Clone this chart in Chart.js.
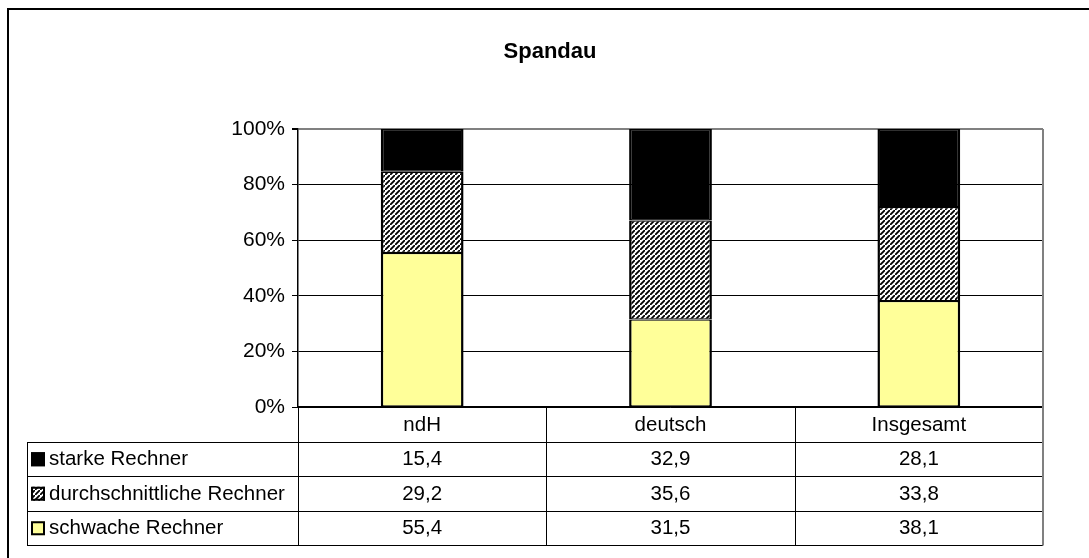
<!DOCTYPE html>
<html>
<head>
<meta charset="utf-8">
<script src="https://cdn.jsdelivr.net/npm/chart.js@4/dist/chart.umd.min.js"></script>
<style>
  html, body { margin: 0; padding: 0; background: #fff; }
  #wrap { width: 1089px; height: 558px; }
</style>
</head>
<body>
<div id="wrap"><canvas id="c" width="1089" height="558"></canvas></div>
<script>
const categories = ['ndH', 'deutsch', 'Insgesamt'];
const starke = [15.4, 32.9, 28.1];
const durchschnittliche = [29.2, 35.6, 33.8];
const schwache = [55.4, 31.5, 38.1];
const seriesNames = ['starke Rechner', 'durchschnittliche Rechner', 'schwache Rechner'];
const yTickValues = [0, 20, 40, 60, 80, 100];

const FONT = "'Liberation Sans', Arial, sans-serif";
const TEXT_SIZE = 20.5;
const YELLOW = '#ffff99';

// diagonal hatch used for the middle series
function makeHatch() {
  const p = 5;
  const c = document.createElement('canvas');
  c.width = p; c.height = p;
  const g = c.getContext('2d');
  g.fillStyle = '#fff';
  g.fillRect(0, 0, p, p);
  g.strokeStyle = '#000';
  g.lineWidth = 1.8;
  g.beginPath();
  g.moveTo(-1, p + 1); g.lineTo(p + 1, -1);
  g.moveTo(-p - 1, 1); g.lineTo(1, -p - 1);
  g.moveTo(p - 1, 2 * p + 1); g.lineTo(2 * p + 1, p - 1);
  g.stroke();
  return g.createPattern(c, 'repeat');
}
const hatch = makeHatch();

// frame, title and the data table under the plot
const tablePlugin = {
  id: 'tablePlugin',
  beforeDraw(chart) {
    const ctx = chart.ctx;
    ctx.save();
    ctx.fillStyle = '#fff';
    ctx.fillRect(0, 0, chart.width, chart.height);
    ctx.strokeStyle = '#000';
    ctx.lineWidth = 2;
    ctx.beginPath();
    ctx.moveTo(8, chart.height + 5);
    ctx.lineTo(8, 9);
    ctx.lineTo(chart.width + 5, 9);
    ctx.stroke();
    ctx.fillStyle = '#000';
    ctx.font = 'bold 22px ' + FONT;
    ctx.textAlign = 'center';
    ctx.textBaseline = 'middle';
    ctx.fillText('Spandau', 550, 52);
    ctx.restore();
  },
  afterDraw(chart) {
    const ctx = chart.ctx;
    const area = chart.chartArea;
    const xs = chart.scales.x;
    const catW = (area.right - area.left) / categories.length;
    const rowH = 34.5;
    const top = area.bottom;
    const tableLeft = 27;
    const bottom = Math.round(top + rowH * 4) + 0.5;
    const rows = [starke, durchschnittliche, schwache];
    const fills = ['#000', hatch, YELLOW];

    ctx.save();
    ctx.strokeStyle = '#000';
    ctx.lineWidth = 1;
    ctx.beginPath();
    for (let r = 1; r <= 4; r++) {
      const y = Math.round(top + rowH * r) + 0.5;
      ctx.moveTo(tableLeft, y);
      ctx.lineTo(area.right, y);
    }
    ctx.moveTo(tableLeft + 0.5, Math.round(top + rowH) + 0.5);
    ctx.lineTo(tableLeft + 0.5, bottom);
    for (let i = 0; i < categories.length; i++) {
      const x = Math.round(area.left + catW * i) + 0.5;
      ctx.moveTo(x, top);
      ctx.lineTo(x, bottom);
    }
    ctx.stroke();

    // plot area and table right border
    ctx.strokeStyle = '#808080';
    ctx.lineWidth = 2;
    ctx.beginPath();
    ctx.moveTo(area.right, area.top);
    ctx.lineTo(area.right, bottom);
    ctx.stroke();

    ctx.fillStyle = '#000';
    ctx.font = TEXT_SIZE + 'px ' + FONT;
    ctx.textAlign = 'center';
    ctx.textBaseline = 'middle';
    categories.forEach((cat, i) => {
      const cx = xs.getPixelForValue(i);
      ctx.fillText(cat, cx, top + rowH / 2 + 1);
      rows.forEach((vals, r) => {
        ctx.fillText(vals[i].toFixed(1).replace('.', ','), cx, top + rowH * (r + 1.5) + 1);
      });
    });

    ctx.textAlign = 'left';
    seriesNames.forEach((name, r) => {
      const cy = top + rowH * (r + 1.5);
      ctx.fillStyle = fills[r];
      ctx.fillRect(31, cy - 6.5, 14, 14);
      ctx.strokeStyle = '#000';
      ctx.lineWidth = 2;
      ctx.strokeRect(32, cy - 5.5, 12, 12);
      ctx.fillStyle = '#000';
      ctx.fillText(name, 49, cy + 1);
    });
    ctx.restore();
  }
};

const barBorder = { left: 2.5, right: 2.5, top: 1.2, bottom: 1.2 };

new Chart(document.getElementById('c'), {
  type: 'bar',
  data: {
    labels: categories,
    datasets: [
      { label: seriesNames[2], data: schwache, backgroundColor: YELLOW },
      { label: seriesNames[1], data: durchschnittliche, backgroundColor: hatch },
      { label: seriesNames[0], data: starke, backgroundColor: '#000' }
    ].map(d => Object.assign(d, {
      borderColor: '#000',
      borderWidth: barBorder,
      borderSkipped: false,
      barPercentage: 1,
      categoryPercentage: 1 / 3
    }))
  },
  options: {
    responsive: false,
    animation: false,
    layout: { padding: { top: 129, right: 46, bottom: 151, left: 0 } },
    plugins: {
      legend: { display: false },
      title: { display: false },
      tooltip: { enabled: false }
    },
    scales: {
      x: {
        stacked: true,
        ticks: { display: false },
        grid: { display: false, drawTicks: false },
        border: { display: true, color: '#000', width: 1.5 },
        afterFit(scale) { scale.height = 0; }
      },
      y: {
        stacked: true,
        min: 0,
        max: 100,
        afterBuildTicks(scale) { scale.ticks = yTickValues.map(v => ({ value: v })); },
        ticks: {
          callback: v => v + '%',
          color: '#000',
          font: { family: FONT, size: 21 },
          padding: 7
        },
        grid: {
          color: c => (c.tick && c.tick.value === 100 ? '#808080' : '#000'),
          lineWidth: c => (c.tick && c.tick.value === 100 ? 2 : 1),
          tickColor: '#000',
          tickLength: 6
        },
        border: { display: true, color: '#000', width: 1.5 },
        afterFit(scale) { scale.width = 298; }
      }
    }
  },
  plugins: [tablePlugin]
});
</script>
</body>
</html>
